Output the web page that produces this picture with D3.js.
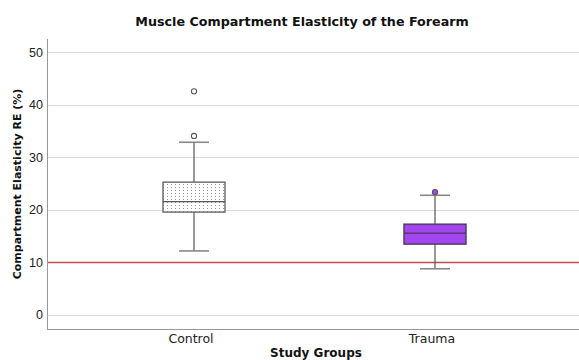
<!DOCTYPE html>
<html>
<head>
<meta charset="utf-8">
<script src="https://cdn.jsdelivr.net/npm/d3@7"></script>
<style>
  body { margin: 0; background: #fff; }
  svg { display: block; font-family: 'DejaVu Sans', sans-serif; }
</style>
</head>
<body>
<div id="chart"><svg width="579" height="360"></svg></div>
<script>
const GROUPS = ['Control', 'Trauma'];
const Q1 = [19.6, 13.5];
const MEDIAN = [21.6, 15.6];
const Q3 = [25.3, 17.3];
const WHISKER_LOW = [12.2, 8.8];
const WHISKER_HIGH = [32.9, 22.8];
const OUTLIERS = [[34.1, 42.6], [23.4]];
const Y_TICKS = [0, 10, 20, 30, 40, 50];
const REF_LINE = 10;

const SVG = d3.select('#chart svg');
const WIDTH = 579;
const LEFT = 47;
const TOP = 39;
const BOTTOM = 329;

const x = d3.scalePoint().domain(GROUPS).range([LEFT, 582]).padding(0.61);
const y = d3.scaleLinear().domain([-2.67, 52.57]).range([BOTTOM, TOP]);

const data = GROUPS.map((g, i) => ({
  group: g,
  q1: Q1[i],
  median: MEDIAN[i],
  q3: Q3[i],
  lo: WHISKER_LOW[i],
  hi: WHISKER_HIGH[i],
  outliers: OUTLIERS[i],
  id: i,
}));

// dotted fill for the control box
const defs = SVG.append('defs');
const pat = defs.append('pattern')
  .attr('id', 'dots')
  .attr('patternUnits', 'userSpaceOnUse')
  .attr('width', 4)
  .attr('height', 3);
pat.append('rect').attr('width', 4).attr('height', 3).attr('fill', '#fff');
pat.append('rect').attr('x', 1).attr('y', 1).attr('width', 1).attr('height', 1).attr('fill', '#9a9a9a');

// gridlines
SVG.append('g')
  .selectAll('line')
  .data(Y_TICKS)
  .join('line')
  .attr('x1', LEFT)
  .attr('x2', WIDTH)
  .attr('y1', (d) => Math.round(y(d)) + 0.5)
  .attr('y2', (d) => Math.round(y(d)) + 0.5)
  .style('stroke', '#d9d9d9')
  .style('stroke-width', 1.2);

// y axis
const yAxis = SVG.append('g')
  .attr('transform', `translate(${LEFT},0)`)
  .call(d3.axisLeft(y).tickValues(Y_TICKS).tickSize(0).tickPadding(4));
yAxis.select('.domain').remove();
yAxis.selectAll('text')
  .style('font-size', '12.5px')
  .style('fill', '#222');
SVG.append('line')
  .attr('x1', LEFT + 0.5).attr('x2', LEFT + 0.5)
  .attr('y1', TOP).attr('y2', BOTTOM)
  .style('stroke', '#999');

// x axis
SVG.append('line')
  .attr('x1', LEFT).attr('x2', WIDTH)
  .attr('y1', BOTTOM + 0.5).attr('y2', BOTTOM + 0.5)
  .style('stroke', '#999');
SVG.append('g')
  .selectAll('text')
  .data(GROUPS)
  .join('text')
  .attr('x', (d) => x(d) - 3)
  .attr('y', 343)
  .text((d) => d)
  .style('text-anchor', 'middle')
  .style('font-size', '12.5px')
  .style('fill', '#222');

// reference line
SVG.append('line')
  .attr('x1', LEFT + 1).attr('x2', WIDTH)
  .attr('y1', y(REF_LINE)).attr('y2', y(REF_LINE))
  .style('stroke', '#c0504d')
  .style('stroke-width', 1.6);

// boxes
const BOX_W = 62;
const CAP_W = 30;
const boxG = SVG.append('g')
  .selectAll('g')
  .data(data)
  .join('g')
  .attr('transform', (d) => `translate(${x(d.group)},0)`);

boxG.append('line')
  .attr('y1', (d) => y(d.hi)).attr('y2', (d) => y(d.q3))
  .style('stroke', '#555').style('stroke-width', 1.2);
boxG.append('line')
  .attr('y1', (d) => y(d.q1)).attr('y2', (d) => y(d.lo))
  .style('stroke', '#555').style('stroke-width', 1.2);
boxG.selectAll('.cap')
  .data((d) => [d.lo, d.hi])
  .join('line')
  .attr('class', 'cap')
  .attr('x1', -CAP_W / 2).attr('x2', CAP_W / 2)
  .attr('y1', (d) => y(d)).attr('y2', (d) => y(d))
  .style('stroke', '#888').style('stroke-width', 1.6);
boxG.append('rect')
  .attr('x', -BOX_W / 2)
  .attr('width', BOX_W)
  .attr('y', (d) => y(d.q3))
  .attr('height', (d) => y(d.q1) - y(d.q3))
  .style('fill', (d) => (d.id === 0 ? 'url(#dots)' : '#a445f2'))
  .style('stroke', (d) => (d.id === 0 ? '#666' : '#4a3a55'))
  .style('stroke-width', 1.4);
boxG.append('line')
  .attr('x1', -BOX_W / 2).attr('x2', BOX_W / 2)
  .attr('y1', (d) => y(d.median)).attr('y2', (d) => y(d.median))
  .style('stroke', (d) => (d.id === 0 ? '#555' : '#4a3a55'))
  .style('stroke-width', 1.4);
boxG.selectAll('circle')
  .data((d) => d.outliers.map((v) => ({ v, id: d.id })))
  .join('circle')
  .attr('cy', (d) => y(d.v))
  .attr('r', 2.6)
  .style('fill', (d) => (d.id === 0 ? '#fff' : '#a445f2'))
  .style('stroke', '#555')
  .style('stroke-width', 1.1);

// titles
SVG.append('text')
  .attr('x', 302)
  .attr('y', 26)
  .text('Muscle Compartment Elasticity of the Forearm')
  .style('text-anchor', 'middle')
  .style('font-weight', 'bold')
  .style('font-size', '12.7px')
  .style('fill', '#111');
SVG.append('text')
  .attr('transform', 'translate(21,184) rotate(-90)')
  .text('Compartment Elasticity RE (%)')
  .style('text-anchor', 'middle')
  .style('font-weight', 'bold')
  .style('font-size', '11px')
  .style('fill', '#111');
SVG.append('text')
  .attr('x', 316)
  .attr('y', 357)
  .text('Study Groups')
  .style('text-anchor', 'middle')
  .style('font-weight', 'bold')
  .style('font-size', '12px')
  .style('fill', '#111');
</script>
</body>
</html>
